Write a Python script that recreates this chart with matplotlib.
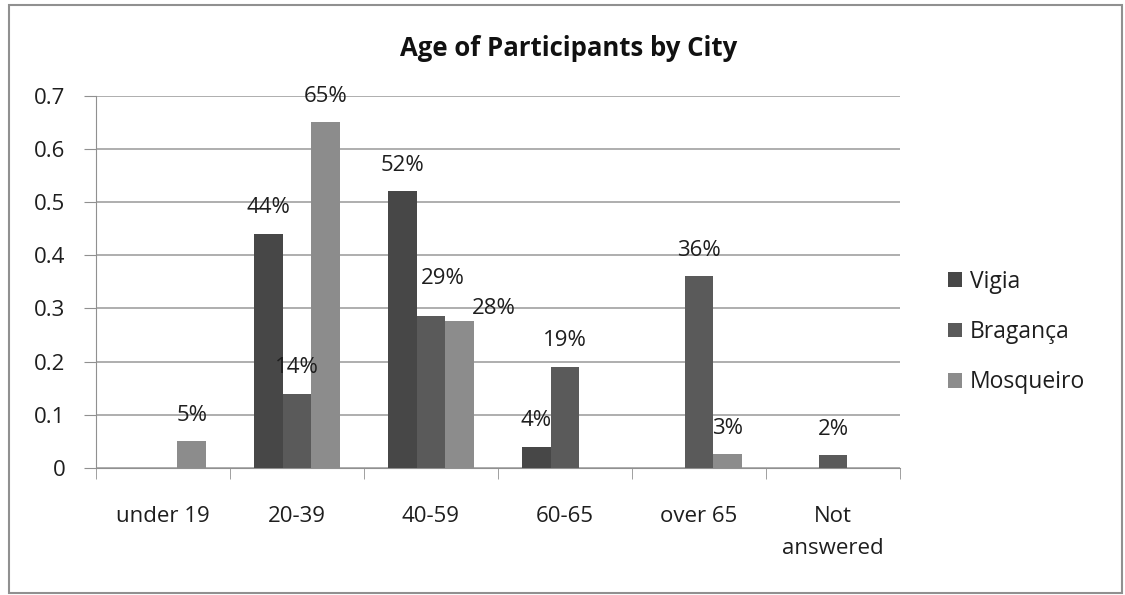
import numpy as np
import matplotlib.pyplot as plt
from matplotlib.patches import Rectangle

plt.rcParams['font.family'] = ['Open Sans', 'DejaVu Sans']

#data
categories = ["under 19", "20-39", "40-59", "60-65", "over 65", "Not\nanswered"]
vigia = [0, 0.44, 0.52, 0.04, 0, 0]
braganca = [0, 0.14, 0.286, 0.19, 0.36, 0.024]
mosqueiro = [0.05, 0.65, 0.276, 0, 0.026, 0]
series = ["Vigia", "Bragança", "Mosqueiro"]
colors = ["#474747", "#5a5a5a", "#8c8c8c"]
yticks = [0, 0.1, 0.2, 0.3, 0.4, 0.5, 0.6, 0.7]

#label nudges in pixels (dx, dy) for labels that were moved by hand
nudge = {(1, 2): (12, 11), (2, 2): (34, -13)}

W, H = 1125, 595
fig = plt.figure(figsize=(W / 100, H / 100), dpi=100)
ax = fig.add_axes([96/W, 1-468/H, 804/W, 372.5/H])

x = np.arange(len(categories))
w = 0.216
fs = 16
for i, (vals, name, c) in enumerate(zip([vigia, braganca, mosqueiro], series, colors)):
    pos = x + (i - 1) * w
    ax.bar(pos, vals, w, color=c, label=name, zorder=3)
    for j, (p, v) in enumerate(zip(pos, vals)):
        if v > 0:
            dx, dy = nudge.get((i, j), (0, 0))
            ax.annotate("%d%%" % int(v * 100 + 0.5), (p, v), xytext=(dx * 0.72, (26 + dy) * 0.72),
                        textcoords='offset points', ha='center', va='center',
                        fontsize=fs, color='#1e1e1e', zorder=4)

ax.set_xlim(-0.5, len(categories) - 0.5)
ax.set_ylim(0, 0.7)
ax.set_yticks(yticks)
ax.set_yticklabels(["0" if t == 0 else "%.1f" % t for t in yticks], fontsize=fs, color='#1e1e1e')
ax.yaxis.grid(True, color='#a8a8a8', linewidth=1.3, zorder=0)
ax.set_xticks(x)
ax.set_xticklabels(categories, fontsize=fs, linespacing=1.75, color='#1e1e1e')
ax.set_xticks(np.arange(len(categories) + 1) - 0.5, minor=True)
ax.tick_params(axis='x', which='major', length=0, pad=27)
ax.tick_params(axis='x', which='minor', length=8, color='#909090', direction='out')
ax.tick_params(axis='y', length=9, color='#909090', pad=13)
for s in ['top', 'right']:
    ax.spines[s].set_visible(False)
for s in ['left', 'bottom']:
    ax.spines[s].set_color('#909090')

fig.text(0.505, 1 - 48/H, "Age of Participants by City", fontsize=18.5, fontweight='bold',
         ha='center', va='center', color='#111111')

fig.legend(loc='center left', bbox_to_anchor=(937/W, 1 - 332/H), frameon=False, fontsize=16.5,
           handlelength=0.6, handleheight=0.6, handletextpad=0.35, labelspacing=1.15,
           borderpad=0, labelcolor='#1e1e1e')

fig.patches.append(Rectangle((9/W, 2/H), 1113/W, 588/H, transform=fig.transFigure,
                             fill=False, edgecolor='#909090', linewidth=1.5))

plt.savefig("out.png")
